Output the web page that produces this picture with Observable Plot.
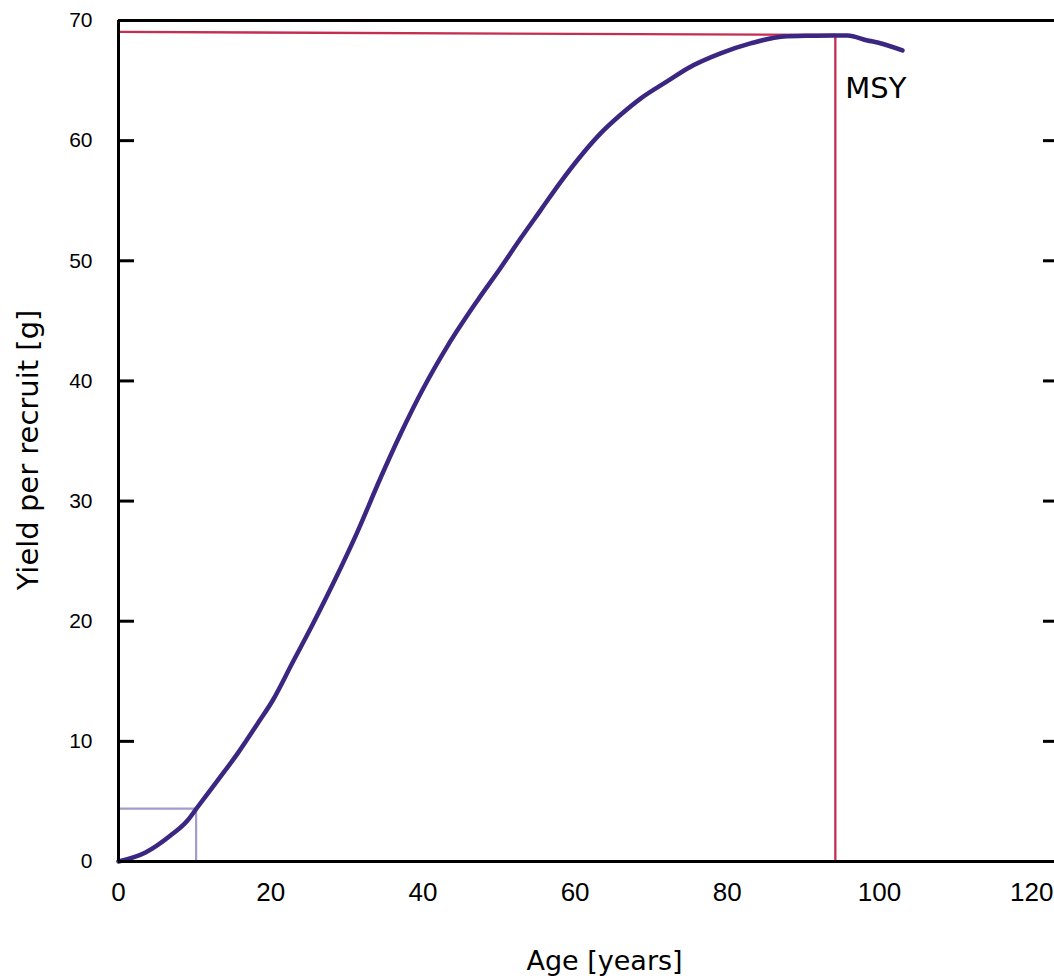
<!DOCTYPE html>
<html>
<head>
<meta charset="utf-8">
<script src="https://cdn.jsdelivr.net/npm/d3@7"></script>
<script src="https://cdn.jsdelivr.net/npm/@observablehq/plot@0.6"></script>
<style>
  html, body { margin: 0; padding: 0; background: #fff; }
  #chart { width: 1054px; height: 978px; }
</style>
</head>
<body>
<div id="chart"></div>
<script>
// Yield-per-recruit curve
const ages = [0, 3.55, 6.83, 9.07, 10.25, 13.01, 15.64, 18.27, 20.24, 22.86, 25.49, 28.38, 31.28, 34.43, 37.06, 40.08, 43.23, 47.18, 50.20, 52.83, 55.46, 58.09, 60.72, 63.35, 65.98, 68.60, 72.14, 74.77, 79.11, 83.05, 87.39, 90.93, 93.96, 95.80, 98.43, 99.74, 103.02];
const yields = [0, 0.75, 2.16, 3.41, 4.41, 6.73, 8.98, 11.47, 13.38, 16.54, 19.70, 23.36, 27.27, 31.92, 35.58, 39.41, 42.9, 46.7, 49.4, 51.85, 54.2, 56.55, 58.7, 60.6, 62.15, 63.5, 64.95, 66.01, 67.26, 68.09, 68.67, 68.73, 68.75, 68.75, 68.34, 68.17, 67.51];

// MSY reference line (horizontal then down to the axis)
const msyLineX = [0, 94.2, 94.2];
const msyLineY = [69.05, 68.8, 0];
// light reference line near the origin
const refLineX = [0, 10.2, 10.2];
const refLineY = [4.4, 4.4, 0];

const msyLabel = ["MSY"];
const msyLabelX = [95.5];
const msyLabelY = [64.3];

const xTicks = [0, 20, 40, 60, 80, 100, 120];
const yTicks = [0, 10, 20, 30, 40, 50, 60, 70];
const xDomain = [0, 123];
const yDomain = [0, 70];
const xTitle = "Age [years]";
const yTitle = "Yield per recruit [g]";

const curve = ages.map((a, i) => ({age: a, y: yields[i]}));
const msy = msyLineX.map((a, i) => ({age: a, y: msyLineY[i]}));
const ref = refLineX.map((a, i) => ({age: a, y: refLineY[i]}));
const labels = msyLabel.map((t, i) => ({t, age: msyLabelX[i], y: msyLabelY[i]}));

const titleFont = "DejaVu Sans, Verdana, sans-serif";

const chart = Plot.plot({
  width: 1054,
  height: 978,
  marginLeft: 118,
  marginRight: 0,
  marginTop: 20,
  marginBottom: 117,
  style: {fontFamily: "Liberation Sans, Arial, Helvetica, sans-serif", background: "white", color: "black"},
  x: {domain: xDomain, label: null},
  y: {domain: yDomain, label: null},
  marks: [
    Plot.line(ref, {x: "age", y: "y", stroke: "#a39bcb", strokeWidth: 2.2}),
    Plot.line(msy, {x: "age", y: "y", stroke: "#c42e51", strokeWidth: 2.3}),
    Plot.line(curve, {x: "age", y: "y", curve: "monotone-x", stroke: "#3b2682", strokeWidth: 4.5, strokeLinejoin: "round", strokeLinecap: "round"}),
    // frame: bottom, top and left sides (right side falls just outside the picture)
    Plot.ruleY(yDomain, {stroke: "black", strokeWidth: 3}),
    Plot.ruleX([xDomain[0]], {stroke: "black", strokeWidth: 3}),
    Plot.axisY({anchor: "left", ticks: yTicks, tickSize: -16, tickPadding: 42, strokeWidth: 3, fontSize: 21, tickFormat: d => String(d)}),
    Plot.axisY({anchor: "right", ticks: yTicks, tickSize: -12, strokeWidth: 3, tickFormat: () => ""}),
    Plot.axisX({anchor: "bottom", ticks: xTicks, tickSize: 0, tickPadding: 21, fontSize: 26, tickFormat: d => String(d)}),
    Plot.text(labels, {x: "age", y: "y", text: "t", textAnchor: "start", lineAnchor: "middle", fontSize: 29, fontFamily: titleFont, fill: "black"}),
    Plot.text([xTitle], {frameAnchor: "bottom", text: d => d, textAnchor: "middle", dx: 18, dy: 100, lineAnchor: "middle", fontSize: 27, fontFamily: titleFont, fill: "black"}),
    Plot.text([yTitle], {frameAnchor: "left", text: d => d, textAnchor: "middle", dx: -90, dy: 9, rotate: -90, lineAnchor: "middle", fontSize: 29, fontFamily: titleFont, fill: "black"})
  ]
});
document.getElementById("chart").appendChild(chart);
</script>
</body>
</html>
